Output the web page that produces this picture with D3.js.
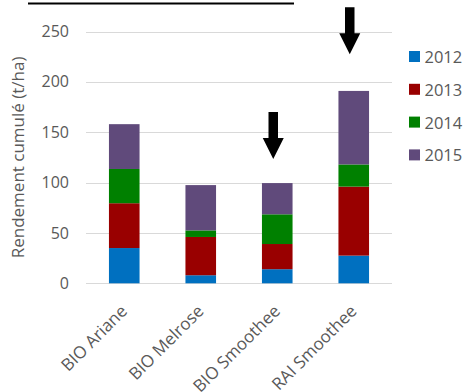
<!DOCTYPE html>
<html>
<head>
<meta charset="utf-8">
<script src="https://cdn.jsdelivr.net/npm/d3@7"></script>
<style>
  html, body { margin: 0; padding: 0; background: #fff; }
  svg { display: block; font-family: "Open Sans", "Liberation Sans", Arial, sans-serif; }
</style>
</head>
<body>
<svg id="chart" width="465" height="392"></svg>
<script>
// Cumulated yield per variety / system, stacked by year
const categories = ["BIO Ariane", "BIO Melrose", "BIO Smoothee", "RAI Smoothee"];
const years = ["2012", "2013", "2014", "2015"];
const values2012 = [35, 8, 14, 27.5];
const values2013 = [44.5, 38, 25, 68.5];
const values2014 = [34, 6.5, 29.5, 22];
const values2015 = [44.5, 45, 31, 73];
const yTicks = [0, 50, 100, 150, 200, 250];
const colors = ["#0070C0", "#990000", "#008000", "#604A7B"];
// Highlight arrows: category and the value where the arrow tip sits
const arrowCats = ["BIO Smoothee", "RAI Smoothee"];
const arrowTips = [123.5, 227.5];
const arrowTops = [170, 274];

const series = [values2012, values2013, values2014, values2015];
const rows = categories.map((c, i) => {
  const r = { cat: c };
  years.forEach((y, k) => { r[y] = series[k][i]; });
  return r;
});
const stacked = d3.stack().keys(years)(rows);

const svg = d3.select("#chart");
const margin = { left: 86, right: 73, top: 31.5, bottom: 108.7 };
const W = 465, H = 392;

const x = d3.scaleBand()
  .domain(categories)
  .range([margin.left, W - margin.right])
  .paddingInner(0.6)
  .paddingOuter(0.3);

const y = d3.scaleLinear()
  .domain([0, 250])
  .range([H - margin.bottom, margin.top]);

const textColor = "#595959";

// Title underline (title sits above the visible area)
svg.append("line")
  .attr("x1", 28).attr("x2", 294)
  .attr("y1", 3.5).attr("y2", 3.5)
  .attr("stroke", "#000").attr("stroke-width", 2);

// Gridlines
svg.append("g")
  .selectAll("line")
  .data(yTicks)
  .join("line")
  .attr("x1", margin.left).attr("x2", W - margin.right)
  .attr("y1", d => Math.round(y(d)) + 0.5).attr("y2", d => Math.round(y(d)) + 0.5)
  .attr("stroke", "#D9D9D9").attr("stroke-width", 1);

// Y axis labels
const yAxis = d3.axisLeft(y).tickValues(yTicks).tickSize(0).tickPadding(0);
const gy = svg.append("g")
  .attr("transform", `translate(${margin.left - 17},0)`)
  .call(yAxis);
gy.select(".domain").remove();
gy.selectAll("text")
  .attr("fill", textColor)
  .style("font-size", "16px")
  .style("font-family", "'Open Sans', sans-serif");

// Y axis title
svg.append("text")
  .attr("transform", `translate(24,${(y(0) + y(250)) / 2}) rotate(-90)`)
  .attr("text-anchor", "middle")
  .attr("fill", textColor)
  .style("font-size", "17px")
  .text("Rendement cumulé (t/ha)");

// Stacked bars
svg.append("g")
  .selectAll("g")
  .data(stacked)
  .join("g")
  .attr("fill", (d, i) => colors[i])
  .selectAll("rect")
  .data(d => d)
  .join("rect")
  .attr("x", d => x(d.data.cat))
  .attr("width", x.bandwidth())
  .attr("y", d => y(d[1]))
  .attr("height", d => y(d[0]) - y(d[1]));

// X axis labels, rotated
const gx = svg.append("g")
  .attr("transform", `translate(0,${y(0)})`)
  .call(d3.axisBottom(x).tickSize(0).tickPadding(0));
gx.select(".domain").remove();
gx.selectAll("text")
  .attr("fill", textColor)
  .style("font-size", "17px")
  .style("font-family", "'Open Sans', sans-serif")
  .attr("text-anchor", "end")
  .attr("dy", null)
  .attr("transform", "translate(4,29) rotate(-45)");

// Arrows
const arrowG = svg.append("g");
arrowCats.forEach((c, i) => {
  const cx = x(c) + x.bandwidth() / 2 - 4;
  const tip = y(arrowTips[i]);
  const top = y(arrowTops[i]);
  const headH = 21;
  const shaftW = 9.5, headW = 21;
  const p = d3.path();
  p.moveTo(cx - shaftW / 2, top);
  p.lineTo(cx + shaftW / 2, top);
  p.lineTo(cx + shaftW / 2, tip - headH);
  p.lineTo(cx + headW / 2, tip - headH);
  p.lineTo(cx, tip);
  p.lineTo(cx - headW / 2, tip - headH);
  p.lineTo(cx - shaftW / 2, tip - headH);
  p.closePath();
  arrowG.append("path").attr("d", p.toString()).attr("fill", "#000");
});

// Legend
const legend = svg.append("g");
years.forEach((yr, i) => {
  const ly = 56.5 + i * 32.8;
  legend.append("rect")
    .attr("x", 409).attr("y", ly - 5.5)
    .attr("width", 11).attr("height", 11)
    .attr("fill", colors[i]);
  legend.append("text")
    .attr("x", 424.5).attr("y", ly)
    .attr("dominant-baseline", "central")
    .attr("fill", textColor)
    .style("font-size", "16.5px")
    .text(yr);
});
</script>
</body>
</html>
